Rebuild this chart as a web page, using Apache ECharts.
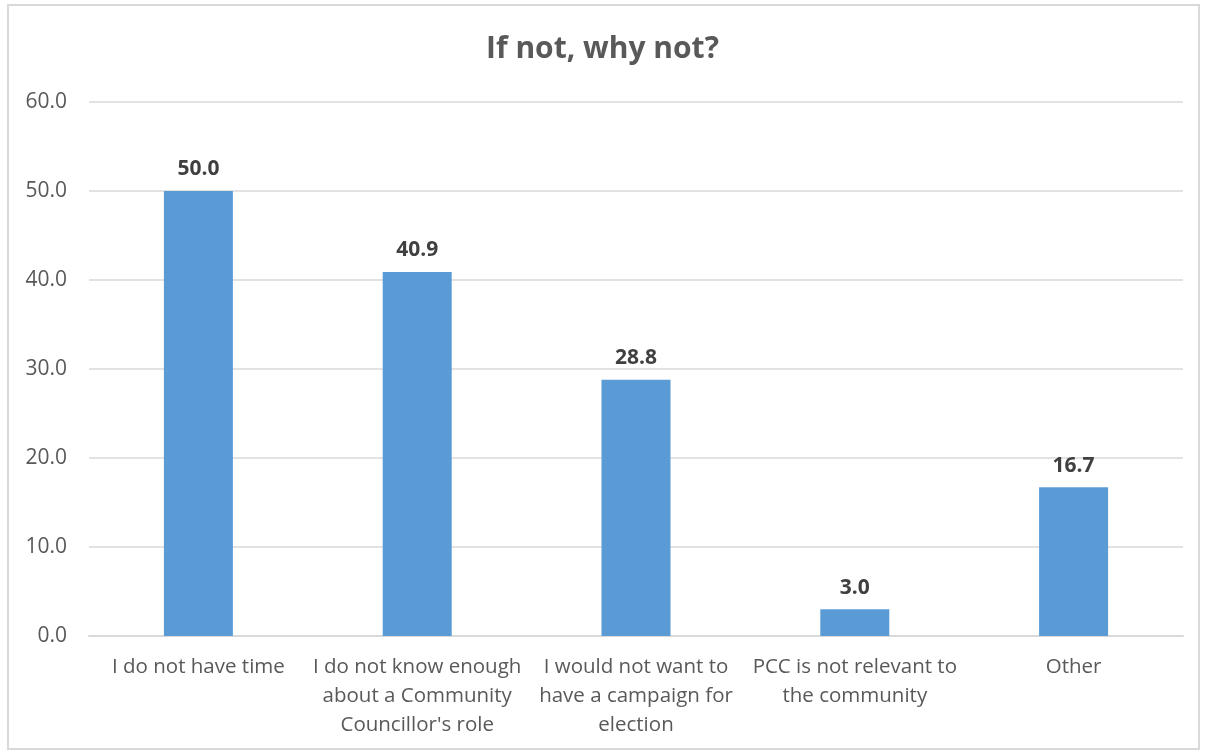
<!DOCTYPE html>
<html>
<head>
<meta charset="utf-8">
<script src="https://cdn.jsdelivr.net/npm/echarts@6/dist/echarts.min.js"></script>
<style>
html,body{margin:0;padding:0;background:#fff;}
#frame{position:absolute;left:7px;top:4px;width:1193px;height:746px;border:2px solid #d9d9d9;box-sizing:border-box;}
#chart{position:absolute;left:0;top:0;width:1205px;height:753px;}
</style>
</head>
<body>
<div id="frame"></div>
<div id="chart"></div>
<script>
const title = "If not, why not?";
const categories = [
  "I do not have time",
  "I do not know enough\nabout a Community\nCouncillor's role",
  "I would not want to\nhave a campaign for\nelection",
  "PCC is not relevant to\nthe community",
  "Other"
];
const values = [50.0, 40.9, 28.8, 3.0, 16.7];
const yMin = 0, yMax = 60, yStep = 10;

const font = "'Open Sans', 'Noto Sans', sans-serif";
const chart = echarts.init(document.getElementById('chart'), null, {renderer: 'canvas'});
chart.setOption({
  animation: false,
  title: {
    text: title, left: 'center', top: 29,
    textStyle: {fontFamily: font, fontSize: 30, fontWeight: 'bold', color: '#595959'}
  },
  grid: {left: 89, right: 22, top: 102, bottom: 117, containLabel: false},
  xAxis: {
    type: 'category', data: categories,
    axisLine: {lineStyle: {color: '#d9d9d9', width: 2}},
    axisTick: {show: false},
    axisLabel: {fontFamily: font, fontSize: 20.5, color: '#595959', lineHeight: 29, margin: 17, interval: 0}
  },
  yAxis: {
    type: 'value', min: yMin, max: yMax, interval: yStep,
    axisLine: {show: false}, axisTick: {show: false},
    splitLine: {lineStyle: {color: '#d9d9d9', width: 1.5}},
    axisLabel: {fontFamily: font, fontSize: 21, color: '#595959', margin: 22,
      formatter: v => v.toFixed(1)}
  },
  series: [{
    type: 'bar', data: values, barWidth: 69,
    itemStyle: {color: '#5b9bd5'},
    label: {show: true, position: 'top', distance: 11, fontFamily: font, fontSize: 21,
      fontWeight: 'bold', color: '#404040', formatter: p => p.value.toFixed(1)}
  }]
});
</script>
</body>
</html>
